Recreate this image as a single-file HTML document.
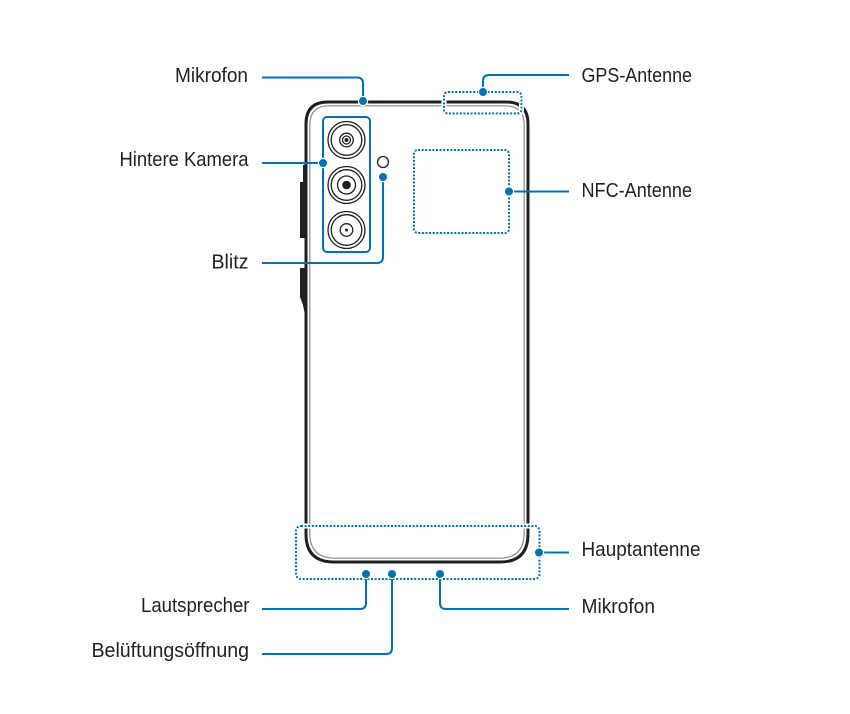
<!DOCTYPE html>
<html><head><meta charset="utf-8"><style>
html,body{margin:0;padding:0;background:#fff;}
svg{display:block;}
text{font-family:"Liberation Sans",sans-serif;font-size:20px;fill:#231f20;}
</style></head><body>
<svg width="850" height="714" viewBox="0 0 850 714" xmlns="http://www.w3.org/2000/svg">
<!-- side buttons -->
<rect x="300" y="182" width="5" height="56" fill="#231f20"/>
<rect x="303" y="165" width="3" height="20" fill="#231f20"/>
<path d="M300 268 H306 V320 L303 305 L300 297 Z" fill="#231f20"/>
<!-- phone body -->
<path d="M306 124 Q306 102 328 102 H506 Q528 102 528 124 V534 Q528 562 500 562 H334 Q306 562 306 534 Z" fill="none" stroke="#231f20" stroke-width="3"/>
<path d="M309.8 125 Q309.8 105.8 329 105.8 H505 Q524.2 105.8 524.2 125 V533 Q524.2 558.2 499 558.2 H335 Q309.8 558.2 309.8 533 Z" fill="none" stroke="#8a8a8a" stroke-width="1.2"/>
<!-- dotted boxes with white halo -->
<g fill="none">
<rect x="444" y="92" width="77.5" height="21.5" rx="4" stroke="#fff" stroke-width="5"/>
<rect x="296" y="526" width="243.5" height="53" rx="5" stroke="#fff" stroke-width="5"/>
<rect x="444" y="92" width="77.5" height="21.5" rx="4" stroke="#0071b3" stroke-width="2" stroke-dasharray="2 1.6"/>
<rect x="414" y="150" width="95" height="83" rx="4" stroke="#0071b3" stroke-width="2" stroke-dasharray="2 1.6"/>
<rect x="296" y="526" width="243.5" height="53" rx="5" stroke="#0071b3" stroke-width="2" stroke-dasharray="2 1.6"/>
</g>
<!-- camera module -->
<rect x="323" y="117" width="47" height="135" rx="4" fill="none" stroke="#0071b3" stroke-width="2"/>
<g fill="none" stroke="#231f20" stroke-width="1.3">
<circle cx="346.5" cy="140" r="18.5"/><circle cx="346.5" cy="140" r="15.3"/>
<circle cx="346.5" cy="140" r="6.8"/><circle cx="346.5" cy="140" r="4"/>
<circle cx="346.5" cy="185" r="18.5"/><circle cx="346.5" cy="185" r="15.3"/>
<circle cx="346.5" cy="185" r="9"/>
<circle cx="346.5" cy="230" r="18.5"/><circle cx="346.5" cy="230" r="15.3"/>
<circle cx="346.5" cy="230" r="6.3"/>
<circle cx="383" cy="162" r="5.5"/>
</g>
<circle cx="346.5" cy="140" r="2" fill="#231f20"/>
<circle cx="346.5" cy="185" r="4.3" fill="#231f20"/>
<circle cx="346.5" cy="230" r="1.5" fill="#231f20"/>
<!-- connectors -->
<g fill="none" stroke="#0071b3" stroke-width="2">
<path d="M262 77.5 H357 Q363 77.5 363 83.5 V101"/>
<path d="M262 163 H323"/>
<path d="M262 263 H377 Q383 263 383 257 V177"/>
<path d="M483 92 V81 Q483 75 489 75 H569"/>
<path d="M509 191.5 H569"/>
<path d="M539 552.5 H569"/>
<path d="M366 574 V603 Q366 609 360 609 H262"/>
<path d="M392 574 V648 Q392 654 386 654 H262"/>
<path d="M440 574 V603 Q440 609 446 609 H569"/>
</g>
<g fill="#0071b3" stroke="#fff" stroke-width="1.2">
<circle cx="363" cy="101" r="4.6"/>
<circle cx="323" cy="163" r="4.6"/>
<circle cx="383" cy="177" r="4.6"/>
<circle cx="483" cy="92" r="4.6"/>
<circle cx="509" cy="191.5" r="4.6"/>
<circle cx="539" cy="552.5" r="4.6"/>
<circle cx="366" cy="574" r="4.6"/>
<circle cx="392" cy="574" r="4.6"/>
<circle cx="440" cy="574" r="4.6"/>
</g>
<!-- labels -->
<text x="175" y="82" textLength="73" lengthAdjust="spacingAndGlyphs">Mikrofon</text>
<text x="119.5" y="166" textLength="129" lengthAdjust="spacingAndGlyphs">Hintere Kamera</text>
<text x="211.5" y="268.5" textLength="37" lengthAdjust="spacingAndGlyphs">Blitz</text>
<text x="141" y="612" textLength="108.5" lengthAdjust="spacingAndGlyphs">Lautsprecher</text>
<text x="91.5" y="657" textLength="157.5" lengthAdjust="spacingAndGlyphs">Belüftungsöffnung</text>
<text x="581.5" y="82" textLength="110.5" lengthAdjust="spacingAndGlyphs">GPS-Antenne</text>
<text x="581.5" y="197" textLength="110.5" lengthAdjust="spacingAndGlyphs">NFC-Antenne</text>
<text x="581.5" y="556" textLength="119" lengthAdjust="spacingAndGlyphs">Hauptantenne</text>
<text x="581.5" y="613" textLength="73.5" lengthAdjust="spacingAndGlyphs">Mikrofon</text>
</svg>
</body></html>
